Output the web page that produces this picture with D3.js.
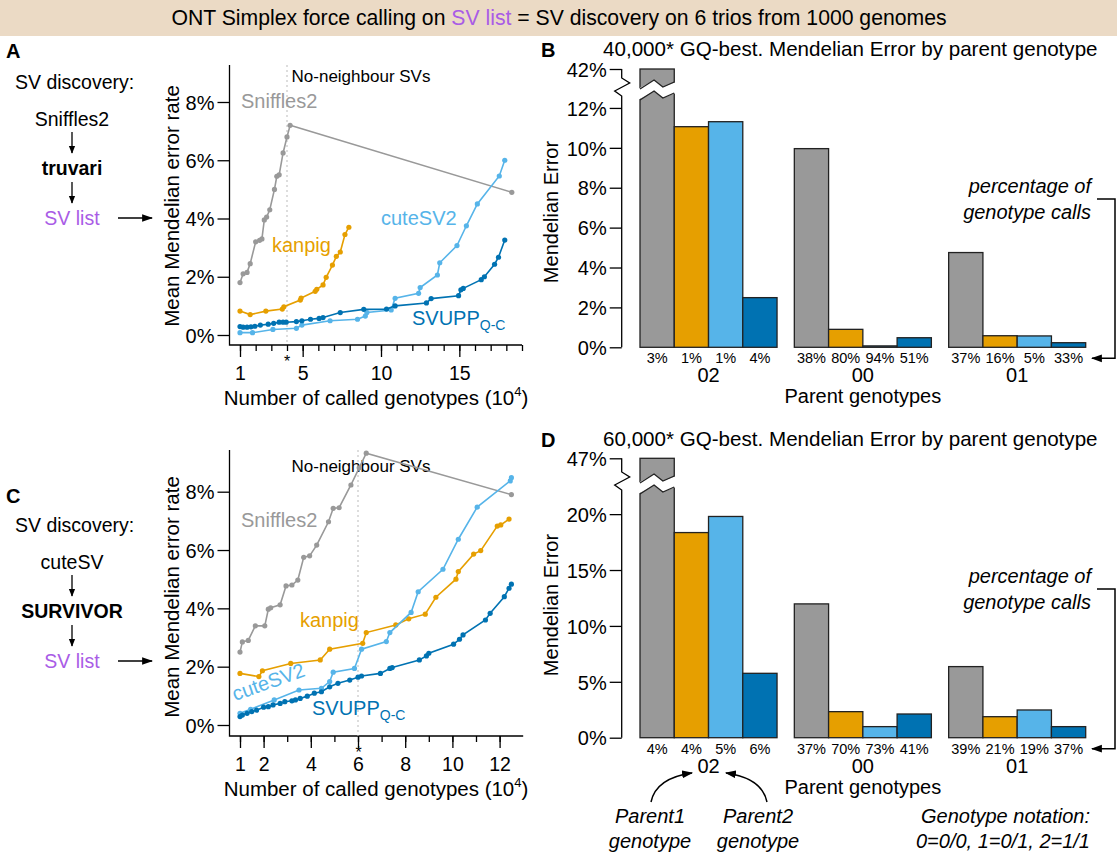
<!DOCTYPE html>
<html><head><meta charset="utf-8">
<script src="https://cdn.jsdelivr.net/npm/d3@7"></script>
<style>body{margin:0;background:#fff} svg{display:block;font-family:"Liberation Sans",Arial,Helvetica,sans-serif}</style>
</head><body><svg id="c" width="1117" height="855"></svg>
<script>
// ---------------- DATA ----------------
const toolNames = ["Sniffles2", "kanpig", "cuteSV2", "SVUPP"];
const toolColors = ["#999999", "#E69F00", "#56B4E9", "#0072B2"];

// Panel A (x in 10^4 called genotypes, y in % Mendelian error)
const aSnifflesX = [1.0,1.2,1.45,1.65,2.0,2.25,2.4,2.55,2.7,2.9,3.2,3.35,3.5,3.75,4.0,4.2,18.35];
const aSnifflesY = [1.8,2.1,2.15,2.45,3.2,3.25,3.3,3.95,4.05,4.3,5.0,5.45,5.5,6.25,6.8,7.2,4.9];
const aKanpigX = [1.0,1.65,2.65,3.7,3.8,4.85,4.9,5.8,5.9,6.3,6.5,6.9,7.15,7.4,7.7,7.95];
const aKanpigY = [0.82,0.7,0.82,0.89,0.97,1.2,1.27,1.5,1.57,1.72,1.98,2.4,2.7,2.85,3.45,3.7];
const aCuteX = [1.0,1.8,3.1,4.6,4.95,6.75,8.5,9.0,9.1,10.65,10.9,12.4,12.5,13.6,13.75,14.85,15.45,16.15,17.55,17.9];
const aCuteY = [0.08,0.08,0.19,0.23,0.34,0.49,0.54,0.65,0.77,0.86,1.26,1.43,1.63,2.06,2.48,3.07,3.75,4.5,5.46,6.0];
const aSvuppX = [1.0,1.2,1.45,1.7,1.95,2.3,2.8,3.15,3.5,3.75,3.95,4.6,4.95,5.5,6.05,6.3,7.4,8.9,10.35,10.9,12.9,13.2,14.95,15.1,15.25,16.4,16.6,17.25,17.5,17.9];
const aSvuppY = [0.29,0.27,0.27,0.28,0.3,0.34,0.37,0.4,0.44,0.44,0.44,0.46,0.49,0.54,0.57,0.6,0.77,0.88,0.89,1.0,1.1,1.25,1.35,1.55,1.6,1.9,2.0,2.43,2.67,3.26];

// Panel C
const cSnifflesX = [1.0,1.1,1.35,1.65,2.05,2.2,2.3,2.7,2.95,3.2,3.45,3.7,3.95,4.25,4.75,4.95,5.2,5.7,6.05,6.35,12.5];
const cSnifflesY = [2.5,2.85,2.9,3.4,3.4,3.97,4.02,4.12,4.77,4.8,4.97,5.75,5.8,6.17,6.97,7.43,7.45,8.23,8.82,9.32,7.9];
const cKanpigX = [1.0,1.8,1.95,3.15,4.4,4.8,6.2,6.35,7.6,8.15,8.85,9.3,10.15,10.25,10.9,11.2,11.9,12.05,12.4];
const cKanpigY = [1.77,1.66,1.86,2.11,2.23,2.6,2.8,3.17,3.43,3.64,3.8,4.38,5.0,5.26,5.86,5.98,6.82,6.86,7.06];
const cCuteX = [1.0,1.45,2.45,3.5,4.45,4.8,4.95,5.85,6.15,7.2,7.35,8.25,8.55,9.6,10.25,11.05,12.45,12.5];
const cCuteY = [0.4,0.54,0.86,1.2,1.26,1.49,1.81,1.94,2.6,2.86,3.17,3.86,4.57,5.34,6.37,7.47,8.37,8.48];
const cSvuppX = [1.0,1.1,1.3,1.5,1.7,2.0,2.2,2.4,2.7,2.9,3.2,3.35,3.55,3.85,4.15,4.45,4.8,5.15,5.65,6.0,6.15,6.95,7.35,7.45,8.6,8.9,9.0,10.05,10.3,10.45,11.4,11.6,12.2,12.4,12.5];
const cSvuppY = [0.29,0.34,0.4,0.46,0.51,0.61,0.63,0.69,0.74,0.8,0.83,0.86,0.91,0.99,1.09,1.14,1.31,1.43,1.54,1.64,1.68,1.77,1.94,1.97,2.23,2.37,2.46,2.77,2.94,3.09,3.6,3.83,4.4,4.69,4.83];

const lineYTicks = [0, 2, 4, 6, 8];
const aXMajor = [1, 5, 10, 15];
const aXMinor = d3.range(1, 20);
const cXMajor = [1, 2, 4, 6, 8, 10, 12];
const cXMinor = d3.range(1, 13);

// Panels B / D (Mendelian error % by parent genotype)
const parentGroups = ["02", "00", "01"];
const bGrey = [42, 9.96, 4.75];
const bOrange = [11.06, 0.9, 0.58];
const bLight = [11.31, 0.07, 0.57];
const bDark = [2.49, 0.48, 0.23];
const bPct = [["3%","1%","1%","4%"],["38%","80%","94%","51%"],["37%","16%","5%","33%"]];
const bTicks = [0, 2, 4, 6, 8, 10, 12, 42];

const dGrey = [47, 11.97, 6.36];
const dOrange = [18.35, 2.33, 1.88];
const dLight = [19.79, 0.99, 2.48];
const dDark = [5.76, 2.12, 0.99];
const dPct = [["4%","4%","5%","6%"],["37%","70%","73%","41%"],["39%","21%","19%","37%"]];
const dTicks = [0, 5, 10, 15, 20, 47];

// ---------------- DRAW ----------------
const svg = d3.select("#c");
const PURPLE = "#a95ce6";

const defs = svg.append("defs");
defs.append("marker").attr("id","ah").attr("viewBox","0 0 10 10").attr("refX",9).attr("refY",5)
  .attr("markerWidth",8).attr("markerHeight",8).attr("markerUnits","userSpaceOnUse").attr("orient","auto")
  .append("path").attr("d","M0,1 L10,5 L0,9 Z").attr("fill","#000");
defs.append("marker").attr("id","ah2").attr("viewBox","0 0 10 10").attr("refX",9).attr("refY",5)
  .attr("markerWidth",11).attr("markerHeight",11).attr("markerUnits","userSpaceOnUse").attr("orient","auto")
  .append("path").attr("d","M0,1.5 L10,5 L0,8.5 Z").attr("fill","#000");

// header
svg.append("rect").attr("x",0).attr("y",0).attr("width",1117).attr("height",36).attr("fill","#ebdac5");
const hdr = svg.append("text").attr("x",559).attr("y",25).attr("text-anchor","middle").attr("font-size",21.2);
hdr.append("tspan").text("ONT Simplex force calling on ");
hdr.append("tspan").attr("fill",PURPLE).text("SV list");
hdr.append("tspan").text(" = SV discovery on 6 trios from 1000 genomes");

function panelLetter(t, x, y) {
  svg.append("text").attr("x",x).attr("y",y).attr("font-size",20).attr("font-weight","bold").text(t);
}
panelLetter("A", 6, 58); panelLetter("B", 541, 57);
panelLetter("C", 6, 503); panelLetter("D", 541, 447);

// left diagrams
function diagram(y0, tool, merger) {
  const g = svg.append("g").attr("font-size",19.5);
  g.append("text").attr("x",15).attr("y",y0).text("SV discovery:");
  g.append("text").attr("x",72).attr("y",y0+37).attr("text-anchor","middle").text(tool);
  g.append("line").attr("x1",72).attr("x2",72).attr("y1",y0+43).attr("y2",y0+64).attr("stroke","#000").attr("stroke-width",1.3).attr("marker-end","url(#ah)");
  g.append("text").attr("x",72).attr("y",y0+86).attr("text-anchor","middle").attr("font-weight","bold").text(merger);
  g.append("line").attr("x1",72).attr("x2",72).attr("y1",y0+93).attr("y2",y0+114).attr("stroke","#000").attr("stroke-width",1.3).attr("marker-end","url(#ah)");
  g.append("text").attr("x",72).attr("y",y0+136).attr("text-anchor","middle").attr("fill",PURPLE).text("SV list");
  g.append("line").attr("x1",118).attr("x2",152).attr("y1",y0+129).attr("y2",y0+129).attr("stroke","#000").attr("stroke-width",1.5).attr("marker-end","url(#ah2)");
}
diagram(89, "Sniffles2", "truvari");
diagram(532, "cuteSV", "SURVIVOR");

function linePanel(cfg) {
  const g = svg.append("g");
  const x = d3.scaleLinear().domain(cfg.xDomain).range(cfg.xRange);
  const y = d3.scaleLinear().domain([0, 8]).range(cfg.yRange);
  // frame (L shape)
  g.append("path").attr("d",`M${cfg.axX},${cfg.top}V${cfg.axY}H${cfg.xRange[1]}`).attr("fill","none").attr("stroke","#000").attr("stroke-width",1.3);
  // y axis ticks
  const ya = g.append("g").attr("transform",`translate(${cfg.axX},0)`)
    .call(d3.axisLeft(y).tickValues(lineYTicks).tickFormat(d=>d+"%").tickSize(12).tickPadding(3));
  ya.select(".domain").remove();
  ya.selectAll("text").attr("font-size",20).attr("font-family",null).attr("dy","0.36em");
  ya.selectAll("line").attr("stroke-width",1.3);
  // x axis minor / major
  const xm = g.append("g").attr("transform",`translate(0,${cfg.axY})`)
    .call(d3.axisBottom(x).tickValues(cfg.minor).tickFormat("").tickSize(6));
  xm.select(".domain").remove(); xm.selectAll("line").attr("stroke-width",1.3);
  const xM = g.append("g").attr("transform",`translate(0,${cfg.axY})`)
    .call(d3.axisBottom(x).tickValues(cfg.major).tickSize(12).tickPadding(9).tickFormat(d3.format("d")));
  xM.select(".domain").remove(); xM.selectAll("line").attr("stroke-width",1.3);
  xM.selectAll("text").attr("font-size",19.5).attr("font-family",null);
  // dotted line at the chosen threshold
  g.append("line").attr("x1",x(cfg.star)).attr("x2",x(cfg.star)).attr("y1",cfg.top).attr("y2",cfg.axY)
    .attr("stroke","#bbbbbb").attr("stroke-width",1).attr("stroke-dasharray","2,3");
  // star: merged into the tick label if the threshold is labelled, otherwise own text
  const starTick = xM.selectAll(".tick").filter(d => d === cfg.star);
  if (!starTick.empty()) {
    const t = starTick.select("text");
    const lab = t.text();
    t.text(null).attr("dy", null);
    t.append("tspan").attr("x",0).attr("dy",1).attr("font-size",16).text("*");
    t.append("tspan").attr("x",0).attr("dy",12.8).text(lab);
  } else {
    g.append("text").attr("x",x(cfg.star)).attr("y",cfg.axY+22).attr("text-anchor","middle").attr("font-size",16).text("*");
  }
  // title & axis labels
  g.append("text").attr("x",361).attr("y",cfg.titleY).attr("text-anchor","middle").attr("font-size",17).text("No-neighbour SVs");
  const xl = g.append("text").attr("x",376).attr("y",cfg.axY+60).attr("text-anchor","middle").attr("font-size",20.5);
  xl.append("tspan").text("Number of called genotypes (10");
  xl.append("tspan").attr("font-size",13).attr("dy",-9).text("4");
  xl.append("tspan").attr("dy",9).text(")");
  g.append("text").attr("transform",`translate(${179},${cfg.yLabelY}) rotate(-90)`).attr("text-anchor","middle").attr("font-size",20.5).text("Mean Mendelian error rate");
  // series
  const line = d3.line().x(d=>x(d[0])).y(d=>y(d[1]));
  cfg.series.forEach((s, i) => {
    const pts = s.xs.map((v, k) => [v, s.ys[k]]);
    g.append("path").datum(pts).attr("d", line).attr("fill","none").attr("stroke", toolColors[i]).attr("stroke-width",1.6);
    g.append("g").selectAll("circle").data(pts).join("circle")
      .attr("cx", d=>x(d[0])).attr("cy", d=>y(d[1])).attr("r",2.6).attr("fill", toolColors[i]);
  });
  // labels
  cfg.labels.forEach((L, i) => {
    const t = g.append("text").attr("font-size",20).attr("fill",toolColors[i]);
    if (L.rot) t.attr("transform",`translate(${L.x},${L.y}) rotate(${L.rot})`);
    else t.attr("x",L.x).attr("y",L.y);
    if (i === 3) {
      t.append("tspan").text("SVUPP");
      t.append("tspan").attr("font-size",14).attr("dy",5).text("Q-C");
    } else t.text(toolNames[i]);
  });
}

linePanel({
  xDomain:[1,19], xRange:[240,522], yRange:[335,102], axX:229.5, axY:345, top:65,
  minor:aXMinor, major:aXMajor, star:4, titleY:82, yLabelY:206,
  series:[{xs:aSnifflesX,ys:aSnifflesY},{xs:aKanpigX,ys:aKanpigY},{xs:aCuteX,ys:aCuteY},{xs:aSvuppX,ys:aSvuppY}],
  labels:[{x:241,y:108},{x:272,y:252},{x:381,y:225},{x:412,y:325}]
});
linePanel({
  xDomain:[1,13], xRange:[240,523.2], yRange:[725,491.7], axX:229.5, axY:736, top:450,
  minor:cXMinor, major:cXMajor, star:6, titleY:472, yLabelY:597,
  series:[{xs:cSnifflesX,ys:cSnifflesY},{xs:cKanpigX,ys:cKanpigY},{xs:cCuteX,ys:cCuteY},{xs:cSvuppX,ys:cSvuppY}],
  labels:[{x:241,y:527},{x:300,y:627},{x:235,y:701,rot:-19.5},{x:312,y:715}]
});

function barPanel(cfg) {
  const g = svg.append("g");
  const y = d3.scaleLinear().domain(cfg.yDomain).range(cfg.yRange);
  const xg = d3.scaleBand().domain(parentGroups).range([640, 1085.7]).paddingInner(0.112);
  const xs = d3.scaleBand().domain(d3.range(4)).range([0, xg.bandwidth()]);
  const y0 = y(0);
  const vals = cfg.values;
  // bars
  parentGroups.forEach((grp, gi) => {
    for (let s = 0; s < 4; s++) {
      const v = vals[s][gi];
      g.append("rect").attr("x", xg(grp)+xs(s)).attr("y", y(v)).attr("width", xs.bandwidth()).attr("height", y0 - y(v))
        .attr("fill", toolColors[s]).attr("stroke","#222").attr("stroke-width",1.3);
      g.append("text").attr("x", xg(grp)+xs(s)+xs.bandwidth()/2).attr("y", y0+16).attr("text-anchor","middle")
        .attr("font-size",14.5).text(cfg.pct[gi][s]);
    }
    g.append("text").attr("x", xg(grp)+xg.bandwidth()/2).attr("y", y0+35).attr("text-anchor","middle").attr("font-size",20).text(grp);
  });
  // break on the tall bar
  const bx0 = xg(parentGroups[0]) - 2, bx1 = xg(parentGroups[0]) + xs.bandwidth() + 2;
  const bw = bx1 - bx0, by = cfg.breakY;
  const up = [[bx0,by+5],[bx0+bw*0.42,by-4],[bx0+bw*0.65,by+3],[bx1,by-2]];
  const lo = up.map(p=>[p[0],p[1]+11]);
  g.append("path").attr("d", "M"+up.map(p=>p.join(",")).join("L")+"L"+lo.slice().reverse().map(p=>p.join(",")).join("L")+"Z")
    .attr("fill","#fff");
  const l2 = d3.line();
  g.append("path").attr("d", l2(up.map((p,k)=>k===0?[p[0]+2,p[1]]:k===3?[p[0]-2,p[1]]:p))).attr("fill","none").attr("stroke","#222").attr("stroke-width",1.3);
  g.append("path").attr("d", l2(lo.map((p,k)=>k===0?[p[0]+2,p[1]]:k===3?[p[0]-2,p[1]]:p))).attr("fill","none").attr("stroke","#222").attr("stroke-width",1.3);
  // y axis with break
  const ax = 621.7, top = y(cfg.yDomain[2]);
  g.append("path").attr("d", `M${ax},${top}V${by-6}L${ax+8},${by-1}L${ax-7},${by+7}L${ax},${by+12}V${y0}`)
    .attr("fill","none").attr("stroke","#000").attr("stroke-width",1.3);
  const ya = g.append("g").attr("transform",`translate(${ax},0)`)
    .call(d3.axisLeft(y).tickValues(cfg.ticks).tickFormat(d=>d+"%").tickSize(12).tickPadding(3));
  ya.select(".domain").remove();
  ya.selectAll("line").attr("stroke-width",1.3);
  ya.selectAll("text").attr("font-size",20).attr("font-family",null).attr("dy","0.36em");
  // labels
  g.append("text").attr("x",603).attr("y",cfg.titleY).attr("font-size",20.6).text(cfg.title);
  g.append("text").attr("transform",`translate(558,${cfg.yLabelY}) rotate(-90)`).attr("text-anchor","middle").attr("font-size",20).text("Mendelian Error");
  g.append("text").attr("x", xg("00")+xg.bandwidth()/2).attr("y", y0+56).attr("text-anchor","middle").attr("font-size",20).text("Parent genotypes");
  // bracket annotation
  g.append("text").attr("x",1091).attr("y",cfg.noteY).attr("text-anchor","end").attr("font-size",20).attr("font-style","italic").text("percentage of");
  g.append("text").attr("x",1091).attr("y",cfg.noteY+26).attr("text-anchor","end").attr("font-size",20).attr("font-style","italic").text("genotype calls");
  g.append("path").attr("d",`M1097,${cfg.noteY+6}H1115V${y0+11}H1092`).attr("fill","none").attr("stroke","#000").attr("stroke-width",1.5).attr("marker-end","url(#ah2)");
}

barPanel({
  yDomain:[0, 13.2, 42], yRange:[347.3, 84, 69], breakY:84, values:[bGrey,bOrange,bLight,bDark], pct:bPct, ticks:bTicks,
  title:"40,000* GQ-best. Mendelian Error by parent genotype", titleY:56, yLabelY:212, noteY:193
});
barPanel({
  yDomain:[0, 23.5, 47], yRange:[737.7, 475, 458.3], breakY:478, values:[dGrey,dOrange,dLight,dDark], pct:dPct, ticks:dTicks,
  title:"60,000* GQ-best. Mendelian Error by parent genotype", titleY:446, yLabelY:605, noteY:583
});

// Parent genotype annotations (panel D)
const ann = svg.append("g").attr("font-size",20).attr("font-style","italic");
ann.append("text").attr("x",650).attr("y",823).attr("text-anchor","middle").text("Parent1");
ann.append("text").attr("x",650).attr("y",848).attr("text-anchor","middle").text("genotype");
ann.append("text").attr("x",758).attr("y",823).attr("text-anchor","middle").text("Parent2");
ann.append("text").attr("x",758).attr("y",848).attr("text-anchor","middle").text("genotype");
svg.append("path").attr("d","M651,802 Q656,778 692,773").attr("fill","none").attr("stroke","#000").attr("stroke-width",1.5).attr("marker-end","url(#ah2)");
svg.append("path").attr("d","M767,802 Q762,778 726,773").attr("fill","none").attr("stroke","#000").attr("stroke-width",1.5).attr("marker-end","url(#ah2)");
ann.append("text").attr("x",1090).attr("y",823).attr("text-anchor","end").text("Genotype notation:");
ann.append("text").attr("x",1090).attr("y",848).attr("text-anchor","end").text("0=0/0, 1=0/1, 2=1/1");
</script></body></html>
